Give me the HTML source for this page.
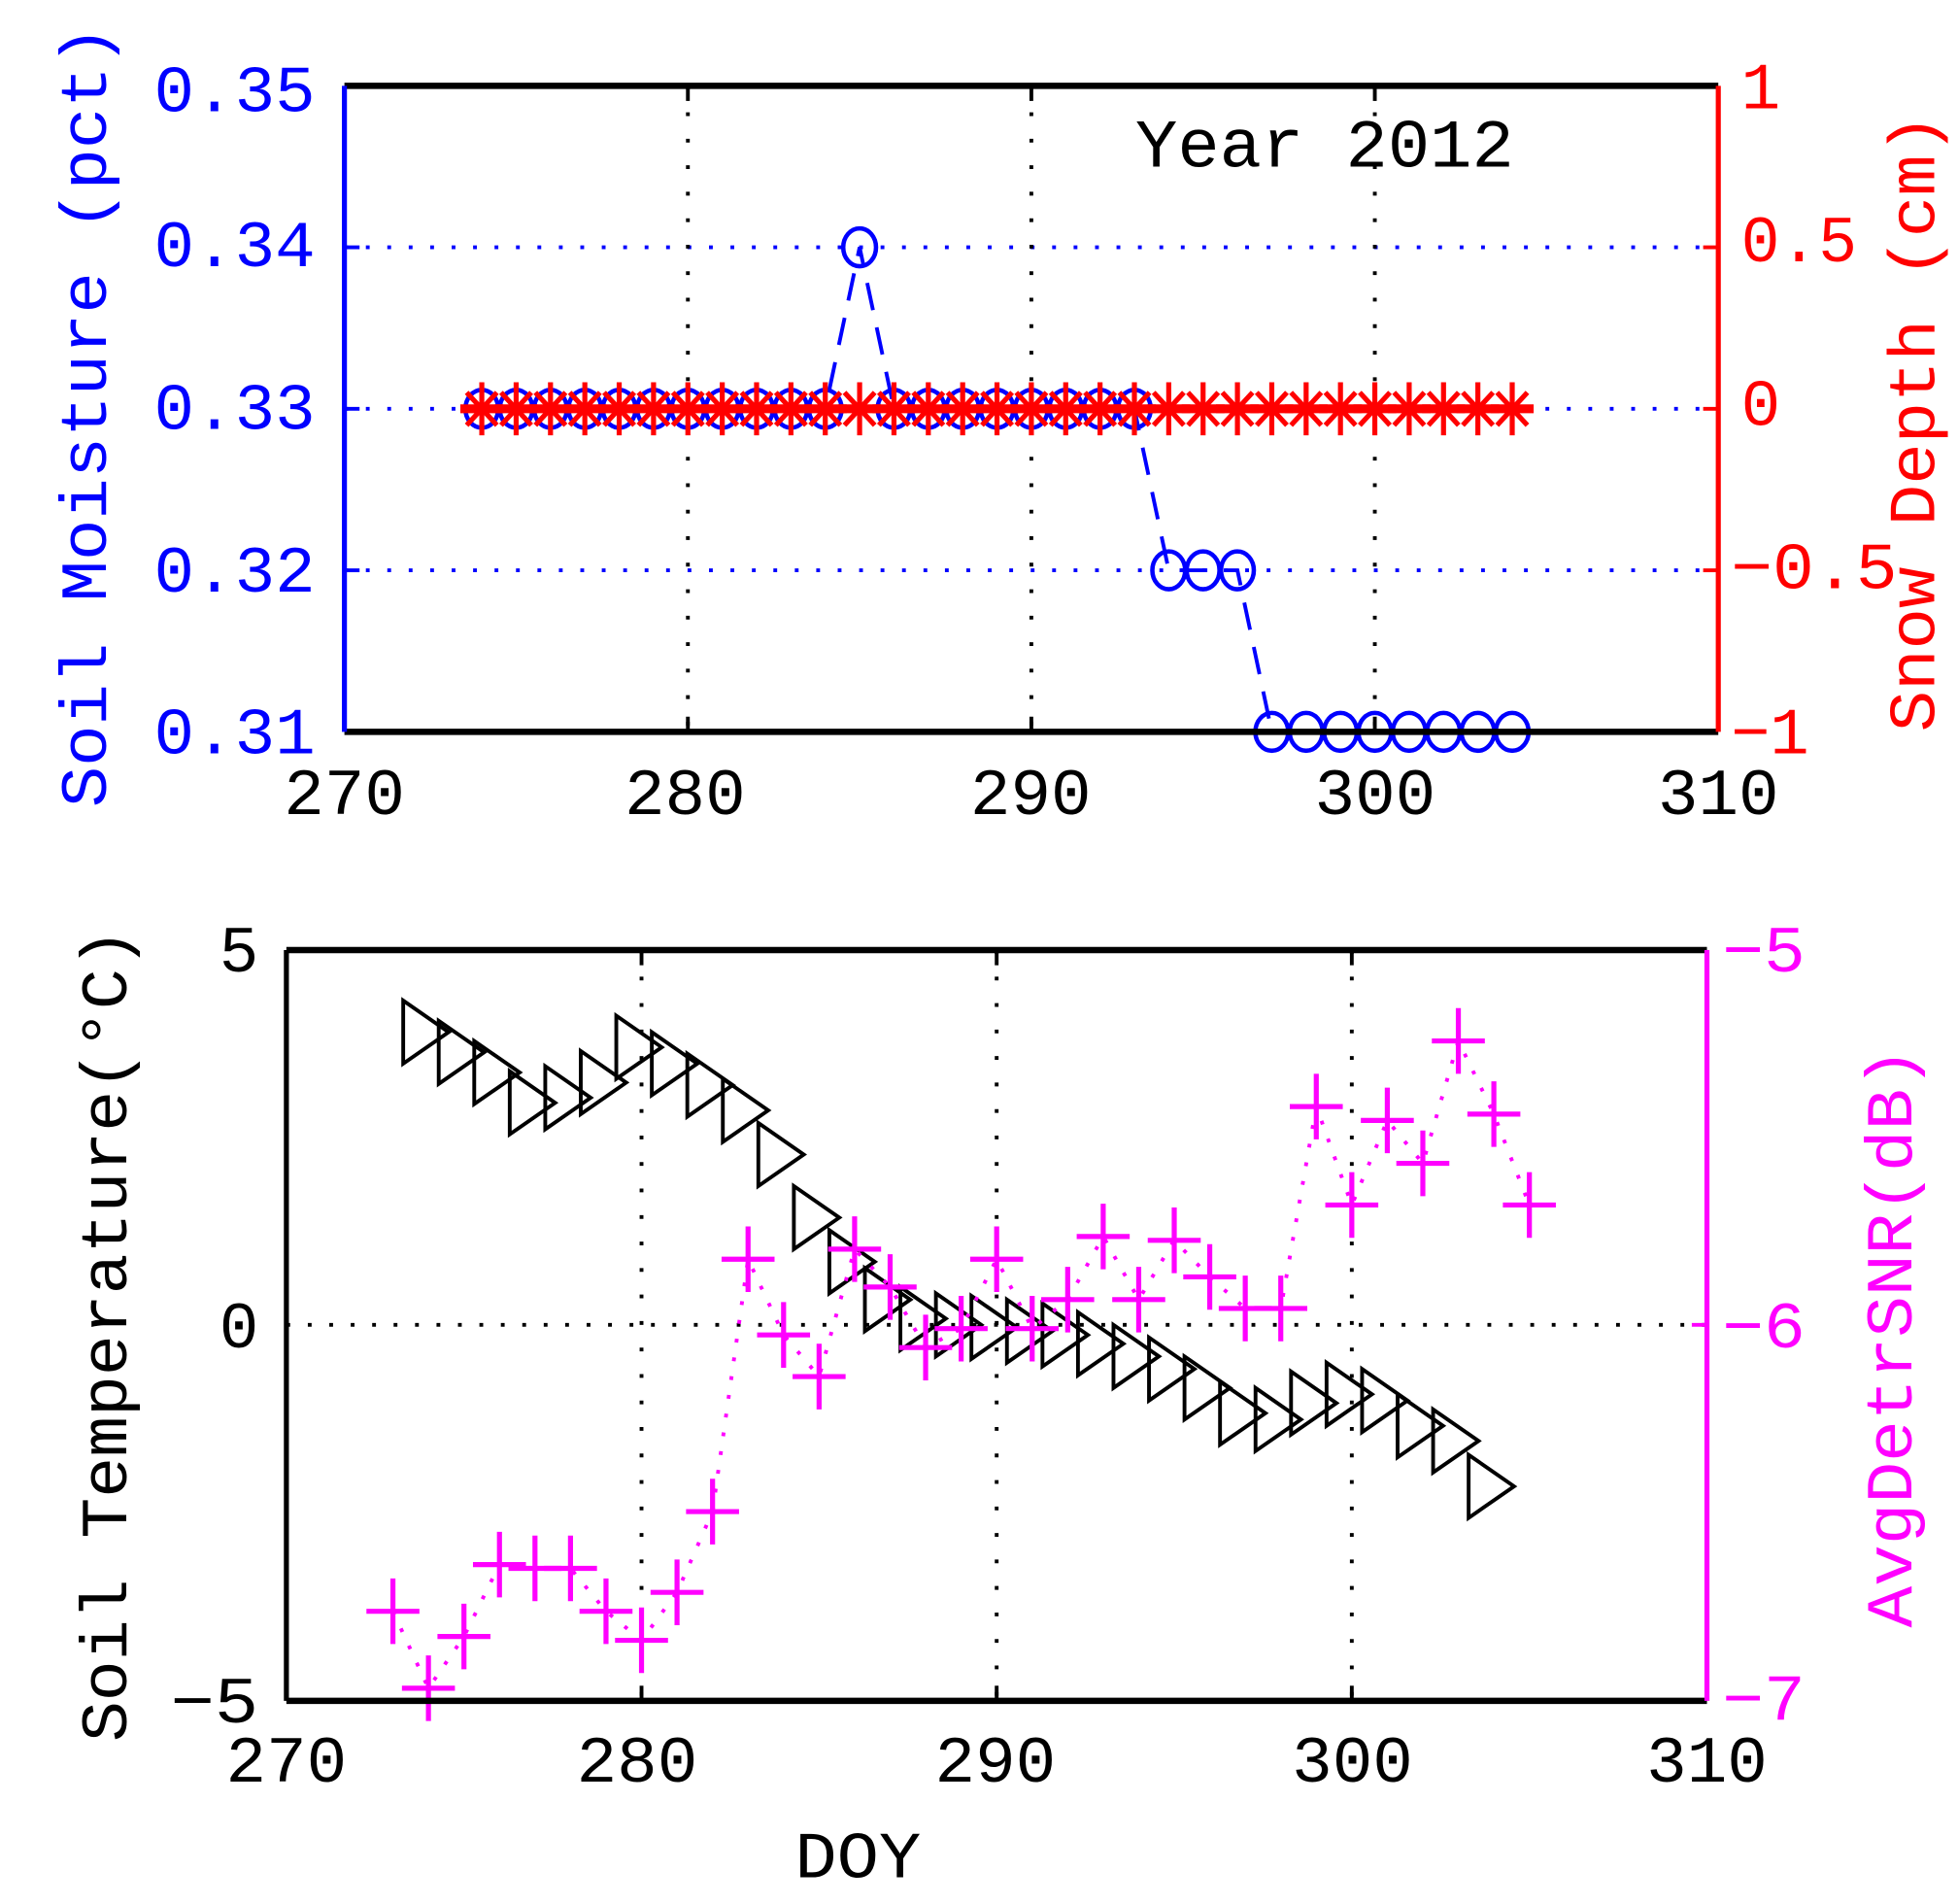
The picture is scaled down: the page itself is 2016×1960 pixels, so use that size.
<!DOCTYPE html>
<html><head><meta charset="utf-8"><style>
html,body{margin:0;padding:0;background:#fff;}
svg{display:block;}
text{font-family:"Liberation Mono","DejaVu Sans Mono",monospace;}
</style></head><body>
<svg id="s" width="2016" height="1960" viewBox="0 0 1552 1509" preserveAspectRatio="none" xmlns="http://www.w3.org/2000/svg">
<rect width="1552" height="1509" fill="#fff"/>
<g id="top"></g>
<g id="bot"></g>
<!-- top plot text -->
<g font-size="52" fill="#0000ff" text-anchor="end">
<text x="250" y="88" textLength="128" lengthAdjust="spacingAndGlyphs">0.35</text>
<text x="250" y="211" textLength="128" lengthAdjust="spacingAndGlyphs">0.34</text>
<text x="250" y="340" textLength="128" lengthAdjust="spacingAndGlyphs">0.33</text>
<text x="250" y="469" textLength="128" lengthAdjust="spacingAndGlyphs">0.32</text>
<text x="250" y="597" textLength="128" lengthAdjust="spacingAndGlyphs">0.31</text>
</g>
<g font-size="52" fill="#ff0000">
<text x="1380" y="86">1</text>
<text x="1380" y="207" textLength="92" lengthAdjust="spacingAndGlyphs">0.5</text>
<text x="1380" y="337">0</text>
<text x="1372" y="466" textLength="132" lengthAdjust="spacingAndGlyphs">−0.5</text>
<text x="1372" y="597" textLength="62" lengthAdjust="spacingAndGlyphs">−1</text>
</g>
<g font-size="52" fill="#000" text-anchor="middle">
<text x="273" y="645" textLength="96" lengthAdjust="spacingAndGlyphs">270</text>
<text x="543" y="645" textLength="96" lengthAdjust="spacingAndGlyphs">280</text>
<text x="817" y="645" textLength="96" lengthAdjust="spacingAndGlyphs">290</text>
<text x="1090" y="645" textLength="96" lengthAdjust="spacingAndGlyphs">300</text>
<text x="1362" y="645" textLength="96" lengthAdjust="spacingAndGlyphs">310</text>
</g>
<text x="900" y="132" font-size="54" fill="#000" textLength="300" lengthAdjust="spacingAndGlyphs">Year 2012</text>
<text transform="translate(84,330) rotate(-90)" text-anchor="middle" font-size="52" fill="#0000ff" textLength="620" lengthAdjust="spacingAndGlyphs">Soil Moisture (pct)</text>
<text transform="translate(1533,335) rotate(-90)" text-anchor="middle" font-size="52" fill="#ff0000" textLength="490" lengthAdjust="spacingAndGlyphs">Snow Depth (cm)</text>
<!-- bottom plot text -->
<g font-size="52" fill="#000" text-anchor="end">
<text x="205" y="770">5</text>
<text x="205" y="1068">0</text>
<text x="205" y="1365" textLength="70" lengthAdjust="spacingAndGlyphs">−5</text>
</g>
<g font-size="52" fill="#ff00ff">
<text x="1365" y="770" textLength="66" lengthAdjust="spacingAndGlyphs">−5</text>
<text x="1365" y="1068" textLength="66" lengthAdjust="spacingAndGlyphs">−6</text>
<text x="1365" y="1363" textLength="66" lengthAdjust="spacingAndGlyphs">−7</text>
</g>
<g font-size="52" fill="#000" text-anchor="middle">
<text x="227" y="1412" textLength="96" lengthAdjust="spacingAndGlyphs">270</text>
<text x="505" y="1412" textLength="96" lengthAdjust="spacingAndGlyphs">280</text>
<text x="789" y="1412" textLength="96" lengthAdjust="spacingAndGlyphs">290</text>
<text x="1072" y="1412" textLength="96" lengthAdjust="spacingAndGlyphs">300</text>
<text x="1353" y="1412" textLength="96" lengthAdjust="spacingAndGlyphs">310</text>
<text x="680" y="1488" textLength="100" lengthAdjust="spacingAndGlyphs">DOY</text>
</g>
<text transform="translate(100,1058) rotate(-90)" text-anchor="middle" font-size="52" fill="#000" textLength="645" lengthAdjust="spacingAndGlyphs">Soil Temperature(°C)</text>
<text transform="translate(1515,1060) rotate(-90)" text-anchor="middle" font-size="52" fill="#ff00ff" textLength="460" lengthAdjust="spacingAndGlyphs">AvgDetrSNR(dB)</text>
</svg>
<script>
var NS="http://www.w3.org/2000/svg";
function el(p,t,a){var e=document.createElementNS(NS,t);for(var k in a)e.setAttribute(k,a[k]);p.appendChild(e);return e;}
var top_=document.getElementById("top"),bot=document.getElementById("bot");
// ---- top plot
var L=273,R=1362,T=68,B=580;
function tx(d){return L+(d-270)*(R-L)/40;}
function ty(v){return T+(0.35-v)*(B-T)/0.04;}
[0.34,0.33,0.32].forEach(function(v){el(top_,"line",{x1:L,x2:R,y1:ty(v),y2:ty(v),stroke:"#00f","stroke-width":3,"stroke-dasharray":"3 14"});});
[280,290,300].forEach(function(d){el(top_,"line",{x1:tx(d),x2:tx(d),y1:T,y2:B,stroke:"#000","stroke-width":3,"stroke-dasharray":"3 18"});});
var sm=[];
for(var d=274;d<=304;d++){var v=0.33;if(d==285)v=0.34;else if(d>=294&&d<=296)v=0.32;else if(d>=297)v=0.31;sm.push([tx(d),ty(v)]);}
el(top_,"polyline",{points:sm.map(function(p){return p.join(",");}).join(" "),fill:"none",stroke:"#00f","stroke-width":3,"stroke-dasharray":"22 14"});
sm.forEach(function(p){el(top_,"ellipse",{cx:p[0],cy:p[1],rx:13,ry:15,fill:"none",stroke:"#00f","stroke-width":3.5});});
for(var d=274;d<=304;d++){var x=tx(d),y=ty(0.33);
 var g=el(top_,"g",{stroke:"#f00","stroke-width":4});
 el(g,"line",{x1:x-17,x2:x+17,y1:y,y2:y,"stroke-width":7});
 el(g,"line",{x1:x,x2:x,y1:y-21,y2:y+21});
 el(g,"line",{x1:x-12,x2:x+12,y1:y-13,y2:y+13});
 el(g,"line",{x1:x-12,x2:x+12,y1:y+13,y2:y-13});}
el(top_,"line",{x1:L,x2:R,y1:T,y2:T,stroke:"#000","stroke-width":5});
el(top_,"line",{x1:L,x2:R,y1:B,y2:B,stroke:"#000","stroke-width":5});
el(top_,"line",{x1:L,x2:L,y1:T,y2:B,stroke:"#00f","stroke-width":4});
el(top_,"line",{x1:R,x2:R,y1:T,y2:B,stroke:"#f00","stroke-width":4});
[280,290,300].forEach(function(d){el(top_,"line",{x1:tx(d),x2:tx(d),y1:T,y2:T+12,stroke:"#000","stroke-width":3});el(top_,"line",{x1:tx(d),x2:tx(d),y1:B-12,y2:B,stroke:"#000","stroke-width":3});});
[0.34,0.33,0.32].forEach(function(v){el(top_,"line",{x1:L,x2:L+12,y1:ty(v),y2:ty(v),stroke:"#00f","stroke-width":3});el(top_,"line",{x1:R-12,x2:R,y1:ty(v),y2:ty(v),stroke:"#f00","stroke-width":3});});
// ---- bottom plot
var L2=227,R2=1353,T2=753,B2=1348;
function bx(d){return L2+(d-270)*(R2-L2)/40;}
el(bot,"line",{x1:L2,x2:R2,y1:1050,y2:1050,stroke:"#000","stroke-width":3,"stroke-dasharray":"3 14"});
[280,290,300].forEach(function(d){el(bot,"line",{x1:bx(d),x2:bx(d),y1:T2,y2:B2,stroke:"#000","stroke-width":3,"stroke-dasharray":"3 18"});});
var temp=[818,834,850,874,870,858,830,843,860,880,915,965,1000,1030,1045,1050,1052,1055,1058,1065,1075,1085,1100,1120,1125,1112,1105,1110,1130,1142,1178];
for(var i=0;i<temp.length;i++){var x=bx(274+i)-2,y=temp[i];
 el(bot,"polygon",{points:(x-18)+","+(y-25)+" "+(x+18)+","+y+" "+(x-18)+","+(y+25),fill:"none",stroke:"#000","stroke-width":3});}
var snr=[1277,1338,1297,1240,1243,1243,1277,1300,1262,1198,998,1058,1091,990,1020,1068,1053,998,1053,1030,980,1030,983,1012,1037,1037,877,955,888,922,825,883,955];
var pts=snr.map(function(y,i){return [bx(273+i),y];});
el(bot,"polyline",{points:pts.map(function(p){return p.join(",");}).join(" "),fill:"none",stroke:"#f0f","stroke-width":3,"stroke-dasharray":"3 12"});
pts.forEach(function(p){var g=el(bot,"g",{stroke:"#f0f","stroke-width":4});
 el(g,"line",{x1:p[0]-21,x2:p[0]+21,y1:p[1],y2:p[1]});
 el(g,"line",{x1:p[0],x2:p[0],y1:p[1]-26,y2:p[1]+26});});
el(bot,"line",{x1:L2,x2:R2,y1:T2,y2:T2,stroke:"#000","stroke-width":5});
el(bot,"line",{x1:L2,x2:R2,y1:B2,y2:B2,stroke:"#000","stroke-width":5});
el(bot,"line",{x1:L2,x2:L2,y1:T2,y2:B2,stroke:"#000","stroke-width":4});
el(bot,"line",{x1:R2,x2:R2,y1:T2,y2:B2,stroke:"#f0f","stroke-width":4});
[280,290,300].forEach(function(d){el(bot,"line",{x1:bx(d),x2:bx(d),y1:T2,y2:T2+12,stroke:"#000","stroke-width":3});el(bot,"line",{x1:bx(d),x2:bx(d),y1:B2-12,y2:B2,stroke:"#000","stroke-width":3});});
el(bot,"line",{x1:R2-12,x2:R2,y1:1050,y2:1050,stroke:"#f0f","stroke-width":3});
</script>
</body></html>
